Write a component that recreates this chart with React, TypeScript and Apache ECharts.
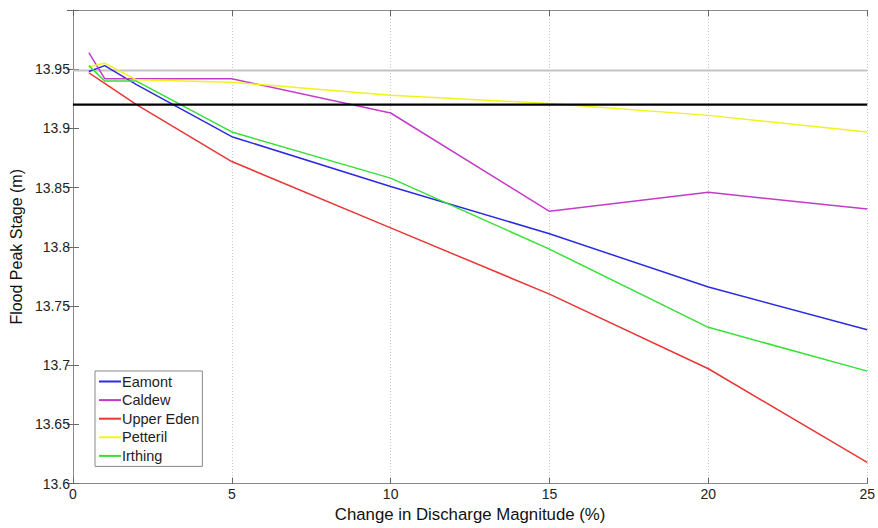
import React, { useEffect, useRef } from "react";
import * as echarts from "echarts";

const xValues = [0.5, 1, 2, 5, 10, 15, 20, 25];
const seriesNames = ["Eamont", "Caldew", "Upper Eden", "Petteril", "Irthing"];
const eamont = [13.948, 13.953, 13.937, 13.893, 13.851, 13.811, 13.766, 13.730];
const caldew = [13.964, 13.942, 13.942, 13.942, 13.913, 13.830, 13.846, 13.832];
const upperEden = [13.947, 13.938, 13.920, 13.872, 13.816, 13.760, 13.697, 13.618];
const petteril = [13.952, 13.955, 13.941, 13.939, 13.928, 13.921, 13.911, 13.897];
const irthing = [13.953, 13.940, 13.940, 13.897, 13.858, 13.798, 13.732, 13.695];
const refGray = 13.949;
const refBlack = 13.92;
const xRange = [0, 25];
const yRange = [13.6, 14.0];

const colors = ["#2b2be0", "#c23cc8", "#ea3535", "#f2f21e", "#36e036"];
const allValues = [eamont, caldew, upperEden, petteril, irthing];

export default function App() {
  const ref = useRef<HTMLDivElement>(null);
  useEffect(() => {
    if (!ref.current) return;
    const chart = echarts.init(ref.current, null, { renderer: "svg" });
    const font = "'Liberation Sans', Arial, sans-serif";
    const lineSeries = seriesNames.map((name, i) => ({
      name,
      type: "line",
      data: xValues.map((x, j) => [x, allValues[i][j]]),
      showSymbol: false,
      symbol: "none",
      lineStyle: { color: colors[i], width: 1.5 },
      itemStyle: { color: colors[i] },
      z: 3,
    }));
    const refSeries = [
      {
        name: "ref-gray",
        type: "line",
        data: [[xRange[0], refGray], [xRange[1], refGray]],
        showSymbol: false,
        symbol: "none",
        lineStyle: { color: "#c4c4c4", width: 2 },
        z: 2,
      },
      {
        name: "ref-black",
        type: "line",
        data: [[xRange[0], refBlack], [xRange[1], refBlack]],
        showSymbol: false,
        symbol: "none",
        lineStyle: { color: "#000000", width: 2.2 },
        z: 4,
      },
    ];
    const axisLine = { show: true, lineStyle: { color: "#8a8a8a", width: 1 } };
    const tick = { show: true, inside: true, length: 6, lineStyle: { color: "#666" } };
    const yFmt = (v: number) => (v >= 13.999 ? "" : String(+v.toFixed(2)));
    chart.setOption({
      animation: false,
      backgroundColor: "#ffffff",
      textStyle: { fontFamily: font },
      grid: { left: 71, top: 10, right: 10, bottom: 37, show: false },
      legend: {
        data: seriesNames,
        orient: "vertical",
        left: 95,
        top: 371,
        backgroundColor: "#ffffff",
        borderColor: "#888888",
        borderWidth: 1,
        borderRadius: 0,
        padding: [3, 3, 3, 4],
        itemWidth: 22,
        itemHeight: 2,
        itemGap: 3.6,
        icon: "rect",
        textStyle: { fontSize: 14.5, color: "#222", fontFamily: font, padding: [0, 0, 0, -4] },
      },
      xAxis: [
        {
          type: "value",
          min: xRange[0],
          max: xRange[1],
          interval: 5,
          position: "bottom",
          axisLine,
          axisTick: tick,
          axisLabel: { fontSize: 14, color: "#222", margin: 3.5, fontFamily: font },
          splitLine: { show: true, lineStyle: { color: "#c8c8c8", type: [1, 2], width: 1 } },
          name: "Change in Discharge Magnitude (%)",
          nameLocation: "middle",
          nameGap: 15,
          nameTextStyle: { fontSize: 16.8, color: "#111", fontFamily: font },
        },
        {
          type: "value",
          min: xRange[0],
          max: xRange[1],
          interval: 5,
          position: "top",
          axisLine,
          axisTick: tick,
          axisLabel: { show: false },
          splitLine: { show: false },
        },
      ],
      yAxis: [
        {
          type: "value",
          min: yRange[0],
          max: yRange[1],
          interval: 0.05,
          position: "left",
          axisLine,
          axisTick: tick,
          axisLabel: { fontSize: 14, color: "#222", margin: 3, formatter: yFmt, fontFamily: font },
          splitLine: { show: false },
          name: "Flood Peak Stage (m)",
          nameLocation: "middle",
          nameGap: 43,
          nameTextStyle: { fontSize: 16, color: "#111", fontFamily: font },
        },
        {
          type: "value",
          min: yRange[0],
          max: yRange[1],
          interval: 0.05,
          position: "right",
          axisLine,
          axisTick: tick,
          axisLabel: { show: false },
          splitLine: { show: false },
        },
      ],
      series: [...refSeries, ...lineSeries],
    });
    return () => chart.dispose();
  }, []);
  return (
    <div
      ref={ref}
      style={{ position: "absolute", left: 0, top: 0, width: 878, height: 528 }}
    />
  );
}
